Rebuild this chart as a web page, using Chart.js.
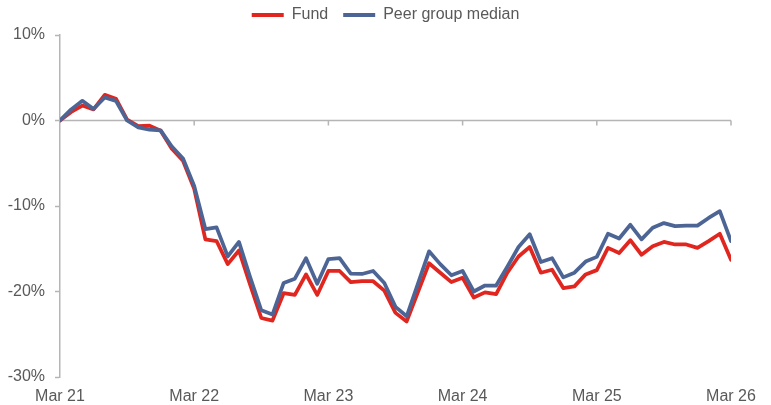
<!DOCTYPE html>
<html>
<head>
<meta charset="utf-8">
<script src="https://cdn.jsdelivr.net/npm/chart.js@4/dist/chart.umd.min.js"></script>
<style>
html,body{margin:0;padding:0;background:#fff;}
#wrap{width:771px;height:405px;position:relative;}
</style>
</head>
<body>
<div id="wrap"><canvas id="c" width="771" height="405"></canvas></div>
<script>
// Month index 0 = Mar 21 ... 60 = Mar 26
const tickLabels = ['Mar 21','Mar 22','Mar 23','Mar 24','Mar 25','Mar 26'];
const seriesNames = ['Fund','Peer group median'];
const fund = [0, 1.0, 1.75, 1.3, 3.0, 2.55, 0.1, -0.65, -0.6, -1.2, -3.3, -4.7,
  -8.0, -13.9, -14.1, -16.8, -15.2, -19.2, -23.1, -23.4, -20.2, -20.4, -18.0, -20.4,
  -17.6, -17.6, -18.9, -18.8, -18.8, -19.9, -22.5, -23.5, -20.1, -16.7, -17.8, -18.9,
  -18.4, -20.7, -20.1, -20.3, -17.8, -15.9, -14.8, -17.8, -17.45, -19.6, -19.4, -18.0,
  -17.5, -14.9, -15.5, -14.0, -15.7, -14.7, -14.2, -14.5, -14.5, -14.9, -14.1, -13.25,
  -16.3];
const peer = [0, 1.3, 2.3, 1.35, 2.7, 2.3, 0, -0.8, -1.06, -1.15, -3.05, -4.45,
  -7.65, -12.7, -12.5, -15.9, -14.2, -18.3, -22.2, -22.7, -19.0, -18.5, -16.1, -19.1,
  -16.2, -16.1, -17.9, -17.95, -17.6, -19.0, -21.8, -22.9, -19.1, -15.3, -16.8, -18.1,
  -17.6, -20.0, -19.3, -19.3, -17.1, -14.8, -13.3, -16.55, -16.1, -18.35, -17.8, -16.5,
  -15.95, -13.25, -13.8, -12.2, -13.9, -12.55, -12.0, -12.35, -12.3, -12.3, -11.4, -10.6,
  -14.1];

const RED = '#E0261F';
const BLUE = '#4D6595';
const AXIS = '#B5B5B5';
const TEXT = '#595959';
const FONT = "'Liberation Sans', Arial, sans-serif";

const toPts = arr => arr.map((v, i) => ({x: i, y: v}));

const zeroLine = {
  id: 'zeroLine',
  beforeDatasetsDraw(chart) {
    const {ctx, chartArea, scales} = chart;
    const y0 = scales.y.getPixelForValue(0);
    ctx.save();
    ctx.strokeStyle = AXIS;
    ctx.lineWidth = 1.5;
    ctx.beginPath();
    ctx.moveTo(chartArea.left, y0);
    ctx.lineTo(chartArea.right, y0);
    scales.x.ticks.forEach(t => {
      if (t.value === 0) return;
      const px = scales.x.getPixelForValue(t.value);
      ctx.moveTo(px, y0);
      ctx.lineTo(px, y0 + 5);
    });
    ctx.stroke();
    ctx.restore();
  }
};

const chart = new Chart(document.getElementById('c'), {
  type: 'line',
  data: {
    datasets: [
      {label: seriesNames[0], data: toPts(fund), borderColor: RED, backgroundColor: RED,
       borderWidth: 3.75, pointRadius: 0, tension: 0, order: 1,
       borderJoinStyle: 'round', borderCapStyle: 'round'},
      {label: seriesNames[1], data: toPts(peer), borderColor: BLUE, backgroundColor: BLUE,
       borderWidth: 3.75, pointRadius: 0, tension: 0, order: 0,
       borderJoinStyle: 'round', borderCapStyle: 'round'}
    ]
  },
  options: {
    responsive: false,
    animation: false,
    devicePixelRatio: 1,
    layout: {padding: {top: -8, left: 0, right: 0, bottom: 0}},
    plugins: {
      tooltip: {enabled: false},
      legend: {
        display: true,
        position: 'top',
        labels: {
          boxWidth: 32,
          boxHeight: 4,
          padding: 15,
          color: TEXT,
          font: {family: FONT, size: 16},
          sort: (a, b) => a.datasetIndex - b.datasetIndex,
          generateLabels(chart) {
            const items = Chart.defaults.plugins.legend.labels.generateLabels(chart);
            items.forEach(it => { it.lineWidth = 0; it.fillStyle = it.strokeStyle; });
            return items;
          }
        }
      }
    },
    scales: {
      x: {
        type: 'linear',
        position: 'bottom',
        min: 0, max: 60,
        grid: {display: false, drawTicks: false},
        border: {display: false},
        ticks: {
          stepSize: 12, autoSkip: false, maxRotation: 0, padding: 10,
          color: TEXT, font: {family: FONT, size: 16},
          callback: v => tickLabels[v / 12]
        },
        afterFit: s => { s.height = 28; }
      },
      y: {
        position: 'left',
        min: -30, max: 10,
        border: {display: true, color: AXIS, width: 1.5},
        grid: {display: true, drawOnChartArea: false, drawTicks: true, tickLength: 5,
               tickColor: AXIS, tickWidth: 1.5, color: AXIS},
        ticks: {
          stepSize: 10, padding: 10, color: TEXT, font: {family: FONT, size: 16},
          callback: v => v + '%'
        },
        afterFit: s => { s.width = 60; }
      },
      r: {
        type: 'linear',
        position: 'right',
        display: true,
        grid: {display: false},
        border: {display: false},
        ticks: {display: false},
        afterFit: s => { s.width = 40; }
      }
    }
  },
  plugins: [zeroLine]
});

// add a little space between the legend and the plot area
if (chart.legend) {
  const baseFit = chart.legend.fit.bind(chart.legend);
  chart.legend.fit = function () { baseFit(); this.height += 2; };
  chart.update();
}
</script>
</body>
</html>
